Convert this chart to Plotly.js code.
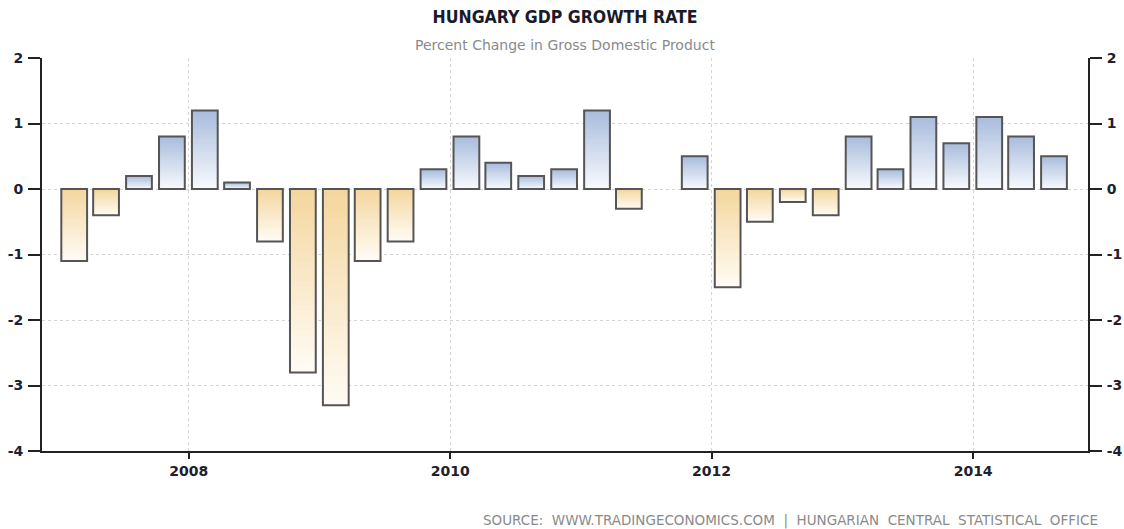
<!DOCTYPE html>
<html>
<head>
<meta charset="utf-8">
<script src="https://cdn.plot.ly/plotly-3.0.1.min.js"></script>
<style>html,body{margin:0;padding:0;background:#fff;}#chart{width:1124px;height:529px;}</style>
</head>
<body>
<div id="chart"></div>
<script>
// Quarterly periods (mid-quarter dates), 2007 Q1 – 2014 Q3
const quarters = [
  "2007-02-15","2007-05-15","2007-08-15","2007-11-15",
  "2008-02-15","2008-05-15","2008-08-15","2008-11-15",
  "2009-02-15","2009-05-15","2009-08-15","2009-11-15",
  "2010-02-15","2010-05-15","2010-08-15","2010-11-15",
  "2011-02-15","2011-05-15","2011-08-15","2011-11-15",
  "2012-02-15","2012-05-15","2012-08-15","2012-11-15",
  "2013-02-15","2013-05-15","2013-08-15","2013-11-15",
  "2014-02-15","2014-05-15","2014-08-15"
];
// Percent change in GDP (quarter on quarter)
const growth = [
  -1.1, -0.4, 0.2, 0.8,
   1.2,  0.1, -0.8, -2.8,
  -3.3, -1.1, -0.8, 0.3,
   0.8,  0.4, 0.2, 0.3,
   1.2, -0.3, null, 0.5,
  -1.5, -0.5, -0.2, -0.4,
   0.8,  0.3, 1.1, 0.7,
   1.1,  0.8, 0.5
];
const yTicks = [-4, -3, -2, -1, 0, 1, 2];
const yTickLabels = ["-4", "-3", "-2", "-1", "0", "1", "2"];
const xTickYears = ["2008-01-01", "2010-01-01", "2012-01-01", "2014-01-01"];
const xTickLabels = ["2008", "2010", "2012", "2014"];

const titleText = "HUNGARY GDP GROWTH RATE";
const subtitleText = "Percent Change in Gross Domestic Product";
const sourceText = "SOURCE:&nbsp; WWW.TRADINGECONOMICS.COM &nbsp;|&nbsp; HUNGARIAN&nbsp; CENTRAL&nbsp; STATISTICAL&nbsp; OFFICE";

// ---- styling ----
const barWidthMs = 72 * 86400000;
const posTop = [168, 188, 220], posBottom = [248, 250, 254];
const negTop = [244, 214, 158], negBottom = [255, 252, 245];
function lerp(a, b, f) {
  return "rgb(" + a.map((v, i) => Math.round(v + (b[i] - v) * f)).join(",") + ")";
}

const N = 30;
const traces = [];
for (let k = 0; k < N; k++) {
  const f = (k + 0.5) / N;
  traces.push({
    type: "bar",
    x: quarters,
    y: growth.map(v => v == null ? null : v / N),
    base: growth.map(v => v == null ? null : v * k / N),
    width: barWidthMs,
    marker: {
      color: growth.map(v => v == null ? "rgba(0,0,0,0)" :
        (v >= 0 ? lerp(posBottom, posTop, f) : lerp(negTop, negBottom, f))),
      line: { width: 0 }
    },
    hoverinfo: "skip",
    showlegend: false
  });
}
// outline
traces.push({
  type: "bar",
  x: quarters,
  y: growth,
  width: barWidthMs,
  marker: { color: "rgba(0,0,0,0)", line: { color: "#555", width: 2 } },
  hoverinfo: "x+y",
  showlegend: false
});
// mirror axis on the right
traces.push({
  type: "scatter", mode: "none", x: quarters, y: growth, yaxis: "y2",
  hoverinfo: "skip", showlegend: false
});

const tickFont = { family: "DejaVu Sans, sans-serif", size: 14, color: "#20202e", weight: "bold" };

const layout = {
  width: 1124, height: 529,
  margin: { l: 42, r: 36, t: 58, b: 78 },
  paper_bgcolor: "#fff", plot_bgcolor: "#fff",
  barmode: "overlay",
  bargap: 0,
  title: {
    text: "<b>" + titleText + "</b>",
    font: { family: "DejaVu Sans Condensed, DejaVu Sans, sans-serif", size: 17.5, color: "#1a1a2a" },
    x: 0.5, xref: "paper", xanchor: "center",
    y: 1 - 17 / 529, yref: "container", yanchor: "middle"
  },
  xaxis: {
    type: "date",
    range: ["2006-11-17", "2014-11-18"],
    tickmode: "array",
    tickvals: xTickYears,
    ticktext: xTickLabels,
    ticks: "outside", ticklen: 6, tickwidth: 2, tickcolor: "#222",
    showline: true, linecolor: "#222", linewidth: 2,
    showgrid: true, gridcolor: "#d4d4d4", griddash: "dot", gridwidth: 1,
    tickfont: { family: "DejaVu Sans, sans-serif", size: 14, color: "#20202e", weight: "bold" },
    zeroline: false,
    fixedrange: true
  },
  yaxis: {
    range: [-4, 2],
    tickmode: "array", tickvals: yTicks, ticktext: yTickLabels,
    ticks: "outside", ticklen: 12, tickwidth: 2, tickcolor: "#222",
    showline: true, linecolor: "#222", linewidth: 2,
    showgrid: true, gridcolor: "#d4d4d4", griddash: "dot", gridwidth: 1,
    zeroline: false,
    tickfont: tickFont,
    ticklabelstandoff: 2,
    fixedrange: true
  },
  yaxis2: {
    range: [-4, 2], overlaying: "y", side: "right",
    tickmode: "array", tickvals: yTicks, ticktext: yTickLabels,
    ticks: "outside", ticklen: 12, tickwidth: 2, tickcolor: "#222",
    showline: true, linecolor: "#222", linewidth: 2,
    showgrid: false, zeroline: false,
    tickfont: tickFont,
    ticklabelstandoff: 2,
    fixedrange: true
  },
  annotations: [
    {
      text: subtitleText, xref: "paper", yref: "paper",
      x: 0.5, y: (451 - 45) / 393, xanchor: "center", yanchor: "middle",
      showarrow: false,
      font: { family: "DejaVu Sans, sans-serif", size: 14, color: "#8a8a8a" }
    },
    {
      text: sourceText, xref: "paper", yref: "paper",
      x: 1 + 12 / 1046, y: (451 - 520) / 393, xanchor: "right", yanchor: "middle",
      showarrow: false,
      font: { family: "DejaVu Sans, sans-serif", size: 13.5, color: "#8a8a8a" }
    }
  ],
  showlegend: false
};

Plotly.newPlot("chart", traces, layout, { displayModeBar: false, staticPlot: true });
</script>
</body>
</html>
